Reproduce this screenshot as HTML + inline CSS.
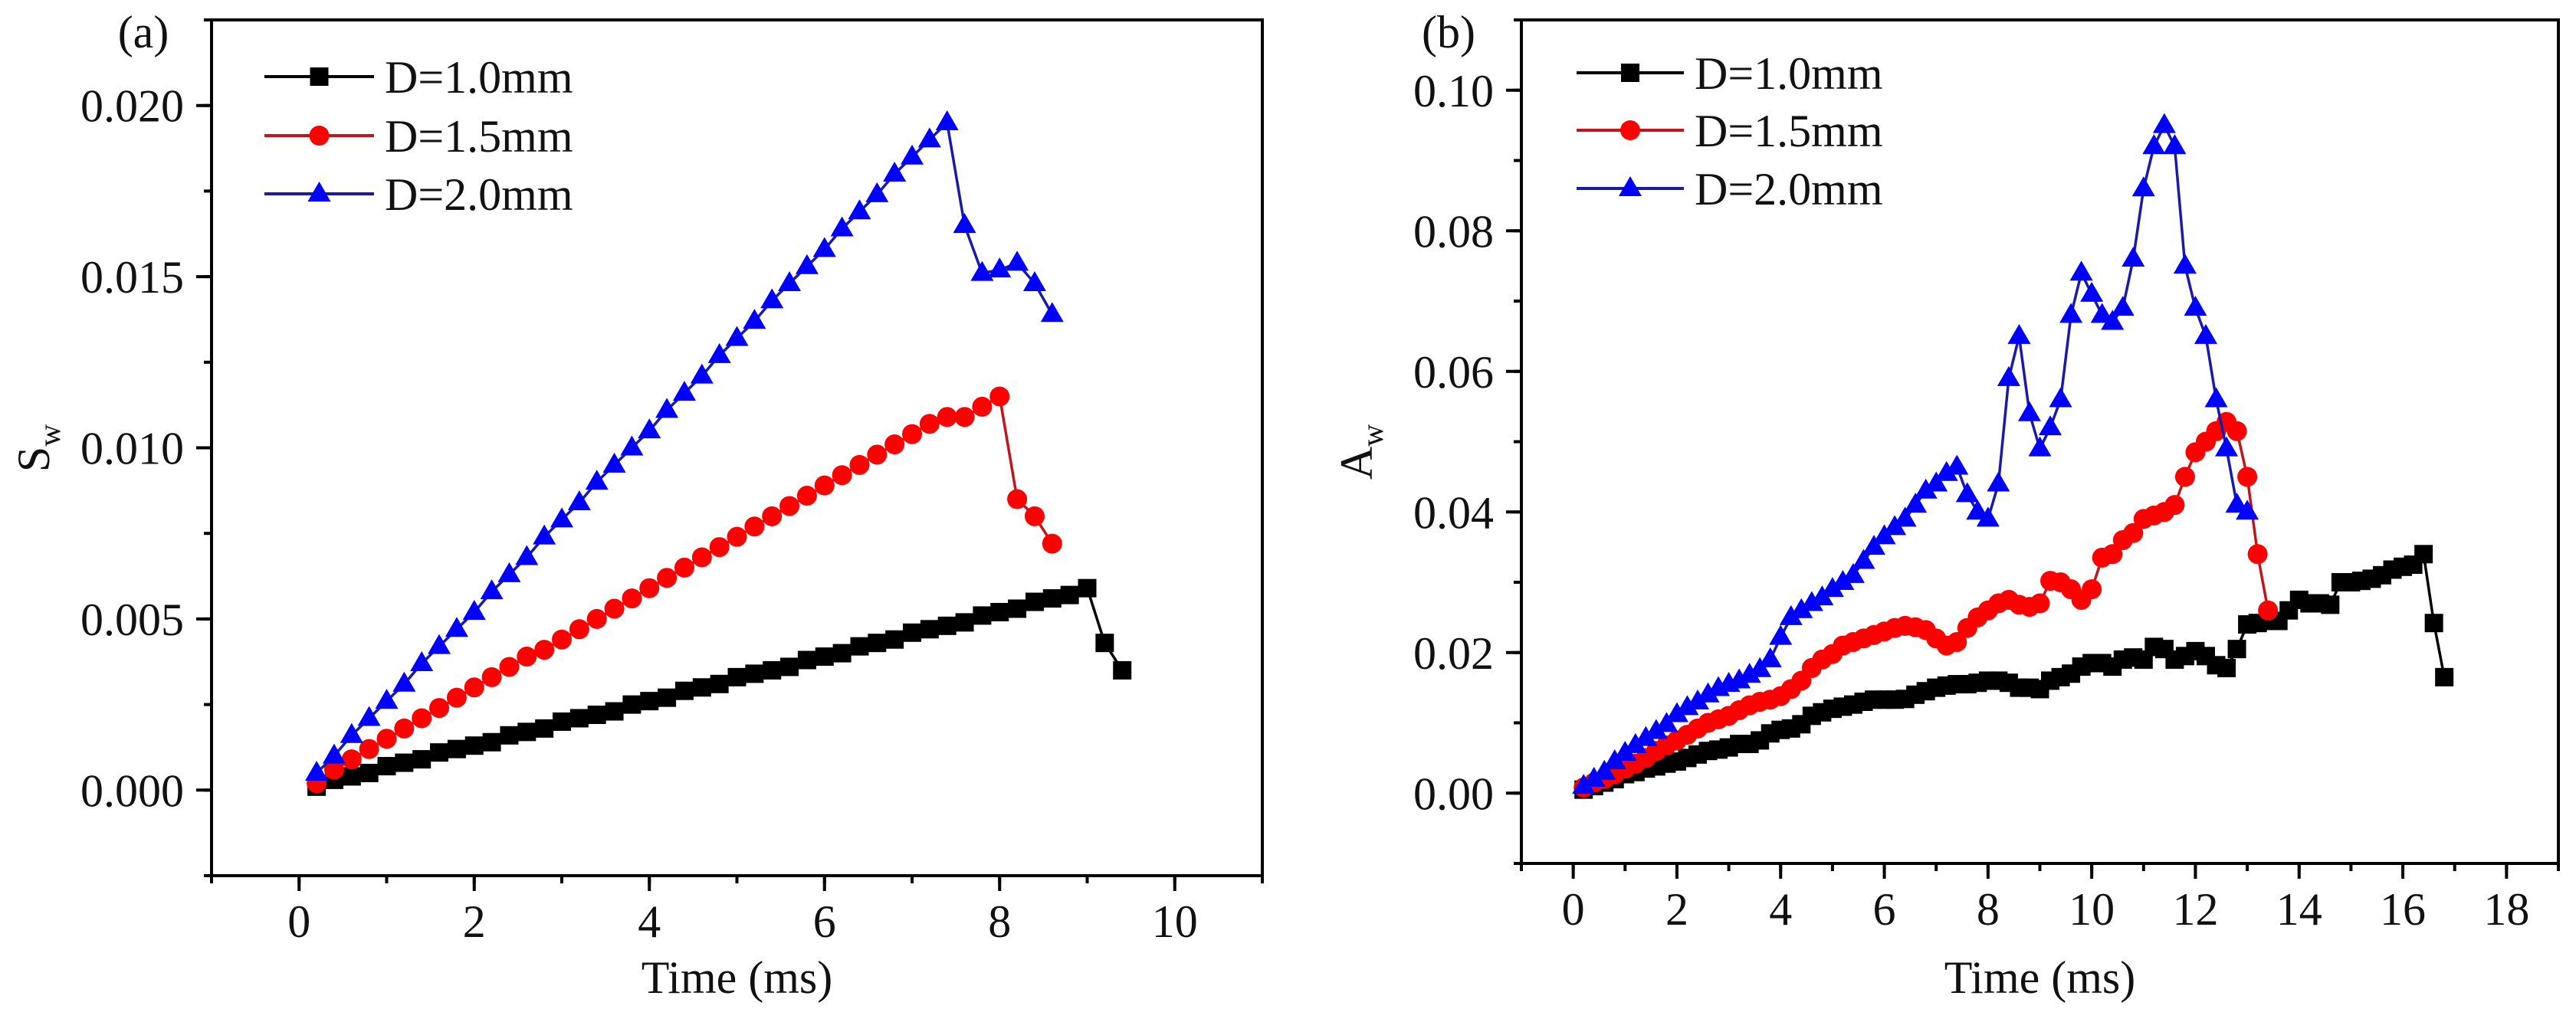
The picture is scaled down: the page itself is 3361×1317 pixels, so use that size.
<!DOCTYPE html>
<html><head><meta charset="utf-8"><style>
html,body{margin:0;padding:0;background:#fff;}
svg{display:block;font-family:"Liberation Serif",serif;}
</style></head><body>
<svg id="fig" width="3361" height="1317" viewBox="0 0 3361 1317" xmlns="http://www.w3.org/2000/svg">
<rect width="3361" height="1317" fill="#fff"/>
<g id="pa"></g>
<g id="pb"></g>
</svg>
<script>
// ---------- Panel (a) data ----------
const aTimeBlack=[0.2,0.4,0.6,0.8,1.0,1.2,1.4,1.6,1.8,2.0,2.2,2.4,2.6,2.8,3.0,3.2,3.4,3.6,3.8,4.0,4.2,4.4,4.6,4.8,5.0,5.2,5.4,5.6,5.8,6.0,6.2,6.4,6.6,6.8,7.0,7.2,7.4,7.6,7.8,8.0,8.2,8.4,8.6,8.8,9.0,9.2,9.4];
const aBlack=[0.0001,0.0003,0.0004,0.0005,0.0007,0.0008,0.0009,0.0011,0.0012,0.0013,0.0014,0.0016,0.0017,0.0018,0.0020,0.0021,0.0022,0.0023,0.0025,0.0026,0.0027,0.0029,0.0030,0.0031,0.0033,0.0034,0.0035,0.0036,0.0038,0.0039,0.0040,0.0042,0.0043,0.0044,0.0046,0.0047,0.0048,0.0049,0.0051,0.0052,0.0053,0.0055,0.0056,0.0057,0.0059,0.0043,0.0035];
const aTimeRed=[0.2,0.4,0.6,0.8,1.0,1.2,1.4,1.6,1.8,2.0,2.2,2.4,2.6,2.8,3.0,3.2,3.4,3.6,3.8,4.0,4.2,4.4,4.6,4.8,5.0,5.2,5.4,5.6,5.8,6.0,6.2,6.4,6.6,6.8,7.0,7.2,7.4,7.6,7.8,8.0,8.2,8.4,8.6];
const aRed=[0.0002,0.0006,0.0009,0.0012,0.0015,0.0018,0.0021,0.0024,0.0027,0.0030,0.0033,0.0036,0.0039,0.0041,0.0044,0.0047,0.0050,0.0053,0.0056,0.0059,0.0062,0.0065,0.0068,0.0071,0.0074,0.0077,0.0080,0.0083,0.0086,0.0089,0.0092,0.0095,0.0098,0.0101,0.0104,0.0107,0.0109,0.0109,0.0112,0.0115,0.0085,0.0080,0.0072];
const aTimeBlue=[0.2,0.4,0.6,0.8,1.0,1.2,1.4,1.6,1.8,2.0,2.2,2.4,2.6,2.8,3.0,3.2,3.4,3.6,3.8,4.0,4.2,4.4,4.6,4.8,5.0,5.2,5.4,5.6,5.8,6.0,6.2,6.4,6.6,6.8,7.0,7.2,7.4,7.6,7.8,8.0,8.2,8.4,8.6];
const aBlue=[0.0005,0.0010,0.0016,0.0021,0.0026,0.0031,0.0037,0.0042,0.0047,0.0052,0.0058,0.0063,0.0068,0.0074,0.0079,0.0084,0.0090,0.0095,0.0100,0.0105,0.0111,0.0116,0.0121,0.0127,0.0132,0.0137,0.0143,0.0148,0.0153,0.0158,0.0164,0.0169,0.0174,0.0180,0.0185,0.0190,0.0195,0.0165,0.0151,0.0152,0.0154,0.0148,0.0139];
const aXTicks=[0,2,4,6,8,10];
const aYTicks=[0.000,0.005,0.010,0.015,0.020];
const aYTickLabels=["0.000","0.005","0.010","0.015","0.020"];

// ---------- Panel (b) data ----------
const bTimeBlack=[0.2,0.4,0.6,0.8,1.0,1.2,1.4,1.6,1.8,2.0,2.2,2.4,2.6,2.8,3.0,3.2,3.4,3.6,3.8,4.0,4.2,4.4,4.6,4.8,5.0,5.2,5.4,5.6,5.8,6.0,6.2,6.4,6.6,6.8,7.0,7.2,7.4,7.6,7.8,8.0,8.2,8.4,8.6,8.8,9.0,9.2,9.4,9.6,9.8,10.0,10.2,10.4,10.6,10.8,11.0,11.2,11.4,11.6,11.8,12.0,12.2,12.4,12.6,12.8,13.0,13.2,13.4,13.6,13.8,14.0,14.2,14.4,14.6,14.8,15.0,15.2,15.4,15.6,15.8,16.0,16.2,16.4,16.6,16.8];
const bBlack=[0.0005,0.001,0.0015,0.002,0.0027,0.003,0.0035,0.0038,0.0042,0.0045,0.005,0.0055,0.006,0.0062,0.0065,0.007,0.007,0.0075,0.0085,0.009,0.0092,0.0098,0.011,0.0115,0.012,0.0123,0.0126,0.013,0.0133,0.0133,0.0133,0.0134,0.014,0.0145,0.015,0.0153,0.0155,0.0155,0.0157,0.016,0.016,0.0157,0.015,0.015,0.0148,0.016,0.0165,0.017,0.018,0.0185,0.0185,0.018,0.019,0.0193,0.019,0.0208,0.0205,0.019,0.0195,0.0202,0.0195,0.0182,0.0178,0.0205,0.024,0.0242,0.0245,0.0245,0.026,0.0275,0.027,0.027,0.0268,0.030,0.030,0.0302,0.0305,0.031,0.0318,0.0322,0.0325,0.034,0.0242,0.0165];
const bTimeRed=[0.2,0.4,0.6,0.8,1.0,1.2,1.4,1.6,1.8,2.0,2.2,2.4,2.6,2.8,3.0,3.2,3.4,3.6,3.8,4.0,4.2,4.4,4.6,4.8,5.0,5.2,5.4,5.6,5.8,6.0,6.2,6.4,6.6,6.8,7.0,7.2,7.4,7.6,7.8,8.0,8.2,8.4,8.6,8.8,9.0,9.2,9.4,9.6,9.8,10.0,10.2,10.4,10.6,10.8,11.0,11.2,11.4,11.6,11.8,12.0,12.2,12.4,12.6,12.8,13.0,13.2,13.4];
const bRed=[0.0008,0.0015,0.002,0.0027,0.0035,0.0042,0.005,0.006,0.0068,0.0075,0.0083,0.0092,0.010,0.0105,0.011,0.0118,0.0125,0.013,0.0133,0.0138,0.0148,0.016,0.0178,0.019,0.0198,0.021,0.0215,0.022,0.0225,0.023,0.0235,0.0238,0.0236,0.0232,0.022,0.021,0.0215,0.0235,0.025,0.026,0.027,0.0275,0.0268,0.0265,0.027,0.0302,0.030,0.029,0.0275,0.029,0.0335,0.034,0.036,0.037,0.039,0.0395,0.040,0.041,0.045,0.0485,0.050,0.0515,0.0528,0.0515,0.045,0.034,0.026];
const bTimeBlue=[0.2,0.4,0.6,0.8,1.0,1.2,1.4,1.6,1.8,2.0,2.2,2.4,2.6,2.8,3.0,3.2,3.4,3.6,3.8,4.0,4.2,4.4,4.6,4.8,5.0,5.2,5.4,5.6,5.8,6.0,6.2,6.4,6.6,6.8,7.0,7.2,7.4,7.6,7.8,8.0,8.2,8.4,8.6,8.8,9.0,9.2,9.4,9.6,9.8,10.0,10.2,10.4,10.6,10.8,11.0,11.2,11.4,11.6,11.8,12.0,12.2,12.4,12.6,12.8,13.0];
const bBlue=[0.001,0.002,0.003,0.0045,0.0057,0.0068,0.0078,0.0088,0.0098,0.0112,0.0122,0.013,0.014,0.0149,0.0155,0.016,0.0168,0.0176,0.019,0.0222,0.025,0.026,0.027,0.0278,0.029,0.030,0.031,0.033,0.035,0.0365,0.0378,0.039,0.041,0.043,0.044,0.0455,0.0464,0.0425,0.040,0.039,0.044,0.059,0.065,0.054,0.049,0.052,0.056,0.068,0.074,0.071,0.068,0.067,0.069,0.076,0.086,0.092,0.095,0.092,0.075,0.069,0.065,0.056,0.049,0.041,0.040];
const bXTicks=[0,2,4,6,8,10,12,14,16,18];
const bYTicks=[0.00,0.02,0.04,0.06,0.08,0.10];
const bYTickLabels=["0.00","0.02","0.04","0.06","0.08","0.10"];
const legendLabels=["D=1.0mm","D=1.5mm","D=2.0mm"];

const NS="http://www.w3.org/2000/svg";
function mk(parent,tag,attrs,text){
  const e=document.createElementNS(NS,tag);
  for(const k in attrs)e.setAttribute(k,attrs[k]);
  if(text!==undefined)e.textContent=text;
  parent.appendChild(e);return e;
}
function marker(g,kind,x,y,col){
  let e;
  if(kind==='sq'){e=mk(g,'rect',{x:x-12,y:y-12,width:24,height:24,fill:col});}
  else if(kind==='ci'){e=mk(g,'circle',{cx:x,cy:y,r:13,fill:col});}
  else {e=mk(g,'polygon',{points:`${x},${y-16} ${x-15},${y+10} ${x+15},${y+10}`,fill:col});}
  
  
}
function panel(g,cfg){
  const X=v=>cfg.L+(v-cfg.x0)/(cfg.x1-cfg.x0)*(cfg.R-cfg.L);
  const Y=v=>cfg.B-(v-cfg.y0)/(cfg.y1-cfg.y0)*(cfg.B-cfg.T);
  cfg.series.forEach((s,i)=>{
    const sg=mk(g,'g',{});
    
    
    const pts=s.t.map((t,j)=>X(t).toFixed(1)+','+Y(s.v[j]).toFixed(1)).join(' ');
    const pl=mk(sg,'polyline',{points:pts,fill:'none',stroke:s.line,'stroke-width':3.5,'stroke-linejoin':'round'});
    
    
    s.t.forEach((t,j)=>marker(sg,s.m,X(t),Y(s.v[j]),s.col));
  });
  const fr=mk(g,'rect',{x:cfg.L,y:cfg.T,width:cfg.R-cfg.L,height:cfg.B-cfg.T,fill:'none',stroke:'#000','stroke-width':4});
  
  
  for(let v=Math.ceil(cfg.x0);v<=cfg.x1;v+=cfg.xMinor){
    mk(g,'line',{x1:X(v),y1:cfg.B,x2:X(v),y2:cfg.B+10,stroke:'#000','stroke-width':4});
  }
  cfg.xTicks.forEach(v=>{
    mk(g,'line',{x1:X(v),y1:cfg.B,x2:X(v),y2:cfg.B+20,stroke:'#000','stroke-width':4});
    const t=mk(g,'text',{x:X(v),y:cfg.B+80,'font-size':60,'text-anchor':'middle',fill:'#111'},String(v));
    
    
  });
  for(let k=0;;k++){const v=cfg.yTicks[0]+k*cfg.yMinor- Math.floor((cfg.yTicks[0]-cfg.y0)/cfg.yMinor)*cfg.yMinor; if(v>cfg.y1+1e-9)break; if(v<cfg.y0-1e-9)continue;
    mk(g,'line',{x1:cfg.L-10,y1:Y(v),x2:cfg.L,y2:Y(v),stroke:'#000','stroke-width':4});}
  cfg.yTicks.forEach((v,i)=>{
    mk(g,'line',{x1:cfg.L-20,y1:Y(v),x2:cfg.L,y2:Y(v),stroke:'#000','stroke-width':4});
    const t=mk(g,'text',{x:cfg.L-36,y:Y(v)+21,'font-size':60,'text-anchor':'end',fill:'#111'},cfg.yLabels[i]);
    
    
  });
  const xt=mk(g,'text',{x:(cfg.L+cfg.R)/2,y:1296,'font-size':60,'text-anchor':'middle',fill:'#111'},'Time (ms)');
  
  
  const yt=mk(g,'text',{transform:`translate(${cfg.ytX},${cfg.ytY}) rotate(-90)`,'font-size':60,'text-anchor':'middle',fill:'#111'});
  
  
  mk(yt,'tspan',{},cfg.ytMain);
  mk(yt,'tspan',{'font-size':40,dy:14},'w');
  const pl=mk(g,'text',{x:cfg.pX,y:62,'font-size':60,'text-anchor':'middle',fill:'#111'},cfg.panel);
  
  
  const lg=mk(g,'g',{});
  
  
  cfg.series.forEach((s,i)=>{
    const y=cfg.legY[i];
    const eg=mk(lg,'g',{});
    
    
    mk(eg,'line',{x1:cfg.legX1,y1:y,x2:cfg.legX2,y2:y,stroke:s.line,'stroke-width':4});
    marker(eg,s.m,(cfg.legX1+cfg.legX2)/2,y,s.col);
    mk(eg,'text',{x:cfg.legX2+14,y:y+21,'font-size':60,fill:'#111'},legendLabels[i]);
  });
}
panel(document.getElementById('pa'),{
  L:276,R:1647,T:26,B:1143,x0:-1,x1:11,y0:-0.0025,y1:0.0225,xMinor:1,yMinor:0.0025,
  xTicks:aXTicks,yTicks:aYTicks,yLabels:aYTickLabels,ytX:64,ytY:585,ytMain:'S',pX:187,panel:'(a)',
  legX1:345,legX2:488,legY:[100,177,253],
  series:[
    {name:'d-1-0mm',t:aTimeBlack,v:aBlack,col:'#000',line:'#000',m:'sq'},
    {name:'d-1-5mm',t:aTimeRed,v:aRed,col:'#f00',line:'#c0141e',m:'ci'},
    {name:'d-2-0mm',t:aTimeBlue,v:aBlue,col:'#00f',line:'#1a1aa6',m:'tr'}]
});
panel(document.getElementById('pb'),{
  L:1985,R:3338,T:26,B:1127,x0:-1,x1:19,y0:-0.01,y1:0.11,xMinor:1,yMinor:0.01,
  xTicks:bXTicks,yTicks:bYTicks,yLabels:bYTickLabels,ytX:1790,ytY:590,ytMain:'A',pX:1890,panel:'(b)',
  legX1:2057,legX2:2197,legY:[95,170,246],
  series:[
    {name:'d-1-0mm',t:bTimeBlack,v:bBlack,col:'#000',line:'#000',m:'sq'},
    {name:'d-1-5mm',t:bTimeRed,v:bRed,col:'#f00',line:'#c0141e',m:'ci'},
    {name:'d-2-0mm',t:bTimeBlue,v:bBlue,col:'#00f',line:'#1a1aa6',m:'tr'}]
});
</script>
</body></html>
